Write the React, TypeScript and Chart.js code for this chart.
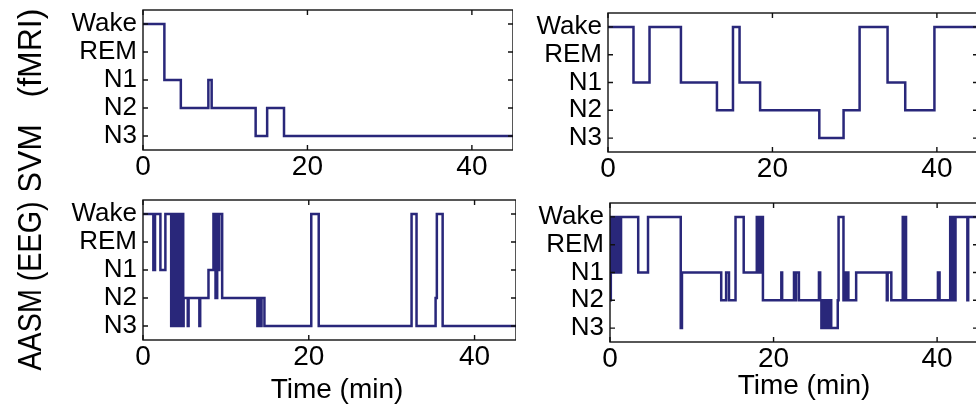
import React, { useEffect, useRef } from 'react';
import { Chart, registerables } from 'chart.js';

Chart.register(...registerables);

// ---------- data ----------
const STAGE_LABELS = ['N3', 'N2', 'N1', 'REM', 'Wake'];
const STAGE_VALUES = [1, 2, 3, 4, 5];
const X_TICKS = [0, 20, 40];
const X_MAX = 45;
const X_TITLE = 'Time (min)';
const ROW_TITLES = ['SVM   (fMRI)', 'AASM (EEG)'];

// Stage value at each change time (minutes); held until the next change
const svmATimes = [0, 2.6, 4.6, 7.95, 8.35, 13.7, 15.1, 17.15, 45];
const svmAStages = [5, 3, 2, 3, 2, 1, 2, 1, 1];

const svmBTimes = [0, 3.1, 5.05, 8.87, 13.25, 15.2, 16.0, 18.5, 25.7, 28.65, 30.6, 34.0, 36.15, 39.7, 45];
const svmBStages = [5, 3, 5, 3, 2, 5, 3, 2, 1, 2, 5, 3, 2, 5, 5];

const aasmATimes = [
  0, 1.25, 1.45, 2.1, 2.7, 3.4, 3.5, 3.6, 3.7, 3.8, 3.9, 4.0, 4.1, 4.2, 4.3, 4.45, 4.55, 4.65, 4.75, 4.85, 4.9,
  5.4, 5.5, 6.8, 6.9, 7.9, 8.5, 8.75, 8.95, 9.1, 9.2, 9.55, 13.8, 14.1, 14.2, 14.3, 14.65,
  20.3, 21.2, 32.4, 33.0, 35.3, 35.45, 36.15, 45,
];
const aasmAStages = [
  5, 3, 5, 3, 5, 1, 5, 1, 5, 1, 5, 1, 5, 1, 5, 1, 5, 1, 5, 1, 2,
  1, 2, 1, 2, 3, 5, 2, 5, 3, 5, 2, 1, 2, 1, 2, 1,
  5, 1, 5, 1, 2, 5, 1, 1,
];

const aasmBTimes = [
  0, 0.1, 0.2, 0.3, 0.45, 0.55, 0.7, 0.8, 0.95, 1.05, 1.25, 1.35, 3.45, 4.65, 8.65, 8.8,
  13.6, 14.2, 14.55, 15.35, 16.35, 17.95, 18.2, 18.3, 18.45, 18.55, 18.7, 20.95, 21.05,
  22.5, 22.65, 22.75, 23.1, 25.55, 25.7, 25.85, 25.95, 26.1, 26.25, 26.4, 26.55, 26.75, 26.9, 27.05,
  27.85, 27.95, 28.55, 28.65, 28.75, 28.85, 28.95, 29.05, 29.15, 30.1, 33.85, 33.95, 34.4,
  35.8, 35.95, 36.05, 36.2, 40.1, 40.3, 41.6, 41.75, 41.85, 42.0, 42.25, 43.7, 43.8, 45,
];
const aasmBStages = [
  2, 5, 3, 5, 3, 5, 3, 5, 3, 5, 3, 5, 3, 5, 1, 3,
  2, 3, 2, 5, 3, 5, 3, 5, 3, 5, 2, 3, 2,
  3, 2, 3, 2, 3, 2, 1, 2, 1, 2, 1, 2, 1, 2, 1,
  2, 5, 2, 3, 2, 3, 2, 3, 2, 3, 2, 3, 2,
  5, 2, 5, 2, 3, 2, 5, 2, 5, 2, 5, 2, 5, 5,
];

// ---------- style ----------
const LINE_COLOR = '#29277a';
const FONT = '"Liberation Sans", Arial, Helvetica, sans-serif';
const PAD_TOP = 20;

type TextItem = { text: string; x: number; y: number; size: number; rotate?: boolean; squeeze?: number };
type PanelProps = {
  times: number[];
  stages: number[];
  plot: { l: number; t: number; w: number; h: number };
  canvasLeft: number;
  xAxisHeight: number;
  texts: TextItem[];
};

const framePlugin = {
  id: 'frame',
  afterDatasetsDraw(chart: any) {
    const { ctx, chartArea, scales } = chart;
    const { left, top, right, bottom } = chartArea;
    const tick = 5;
    ctx.save();
    ctx.strokeStyle = '#111';
    ctx.lineWidth = 1.4;
    ctx.beginPath();
    X_TICKS.forEach((v) => {
      const px = scales.x.getPixelForValue(v);
      ctx.moveTo(px, bottom);
      ctx.lineTo(px, bottom - tick);
      ctx.moveTo(px, top);
      ctx.lineTo(px, top + tick);
    });
    STAGE_VALUES.forEach((v) => {
      const py = scales.y.getPixelForValue(v);
      ctx.moveTo(left, py);
      ctx.lineTo(left + tick, py);
      ctx.moveTo(right, py);
      ctx.lineTo(right - tick, py);
    });
    ctx.stroke();
    ctx.strokeRect(left, top, right - left, bottom - top);
    ctx.restore();
  },
};

function Panel({ times, stages, plot, canvasLeft, xAxisHeight, texts }: PanelProps) {
  const ref = useRef<HTMLCanvasElement>(null);
  const canvasTop = plot.t - PAD_TOP;
  const width = plot.l - canvasLeft + plot.w;
  const height = PAD_TOP + plot.h + xAxisHeight;

  useEffect(() => {
    const canvas = ref.current;
    if (!canvas) return;
    const textPlugin = {
      id: 'panelText',
      afterDraw(chart: any) {
        const ctx = chart.ctx;
        ctx.save();
        ctx.fillStyle = '#000';
        ctx.textAlign = 'center';
        ctx.textBaseline = 'alphabetic';
        texts.forEach((it) => {
          ctx.save();
          ctx.font = `${it.size}px ${FONT}`;
          ctx.translate(it.x - canvasLeft, it.y - canvasTop);
          if (it.rotate) ctx.rotate(-Math.PI / 2);
          if (it.squeeze) ctx.scale(it.squeeze, 1);
          ctx.fillText(it.text, 0, 0);
          ctx.restore();
        });
        ctx.restore();
      },
    };
    const chart = new Chart(canvas, {
      type: 'line',
      data: {
        datasets: [
          {
            data: times.map((t, i) => ({ x: t, y: stages[i] })),
            stepped: true,
            borderColor: LINE_COLOR,
            borderWidth: 2.5,
            pointRadius: 0,
            fill: false,
            borderJoinStyle: 'miter',
            borderCapStyle: 'butt',
            tension: 0,
          } as any,
        ],
      },
      options: {
        animation: false,
        responsive: false,
        devicePixelRatio: 1,
        events: [],
        layout: { padding: { top: PAD_TOP, left: 0, right: 0, bottom: 0 } },
        plugins: { legend: { display: false }, tooltip: { enabled: false }, title: { display: false } },
        scales: {
          x: {
            type: 'linear',
            min: 0,
            max: X_MAX,
            grid: { display: false, drawTicks: false },
            border: { display: false },
            ticks: {
              color: '#000',
              font: { family: FONT, size: 28, lineHeight: 1.2 },
              padding: 0,
              autoSkip: false,
              maxRotation: 0,
              callback: (v: any) => String(v),
            },
            afterBuildTicks: (s: any) => {
              s.ticks = X_TICKS.map((v) => ({ value: v }));
            },
            afterFit: (s: any) => {
              s.height = xAxisHeight;
            },
          },
          y: {
            type: 'linear',
            min: 0.5,
            max: 5.5,
            grid: { display: false, drawTicks: false },
            border: { display: false },
            ticks: {
              color: '#000',
              font: { family: FONT, size: 26, lineHeight: 1 },
              padding: 6,
              autoSkip: false,
              callback: (v: any) => STAGE_LABELS[STAGE_VALUES.indexOf(Number(v))] ?? '',
            },
            afterBuildTicks: (s: any) => {
              s.ticks = STAGE_VALUES.map((v) => ({ value: v }));
            },
            afterFit: (s: any) => {
              s.width = plot.l - canvasLeft;
            },
          },
        },
      } as any,
      plugins: [framePlugin, textPlugin],
    });
    return () => chart.destroy();
  }, []);

  return (
    <canvas
      ref={ref}
      width={width}
      height={height}
      style={{ position: 'absolute', left: canvasLeft, top: canvasTop, width, height }}
    />
  );
}

export default function App() {
  return (
    <div
      style={{
        position: 'fixed',
        left: 0,
        top: 0,
        width: 976,
        height: 406,
        overflow: 'hidden',
        background: '#fff',
      }}
    >
      <Panel
        times={svmATimes}
        stages={svmAStages}
        plot={{ l: 143, t: 10, w: 370, h: 140 }}
        canvasLeft={0}
        xAxisHeight={40}
        texts={[{ text: ROW_TITLES[0], x: 41, y: 101, size: 34, rotate: true, squeeze: 0.94 }]}
      />
      <Panel
        times={svmBTimes}
        stages={svmBStages}
        plot={{ l: 608, t: 13, w: 370, h: 139 }}
        canvasLeft={520}
        xAxisHeight={40}
        texts={[]}
      />
      <Panel
        times={aasmATimes}
        stages={aasmAStages}
        plot={{ l: 143, t: 200, w: 373, h: 140 }}
        canvasLeft={0}
        xAxisHeight={70}
        texts={[
          { text: ROW_TITLES[1], x: 41, y: 286, size: 33, rotate: true, squeeze: 0.87 },
          { text: X_TITLE, x: 337, y: 398, size: 28 },
        ]}
      />
      <Panel
        times={aasmBTimes}
        stages={aasmBStages}
        plot={{ l: 610, t: 203, w: 368, h: 139 }}
        canvasLeft={520}
        xAxisHeight={64}
        texts={[{ text: X_TITLE, x: 804, y: 394, size: 28 }]}
      />
    </div>
  );
}
